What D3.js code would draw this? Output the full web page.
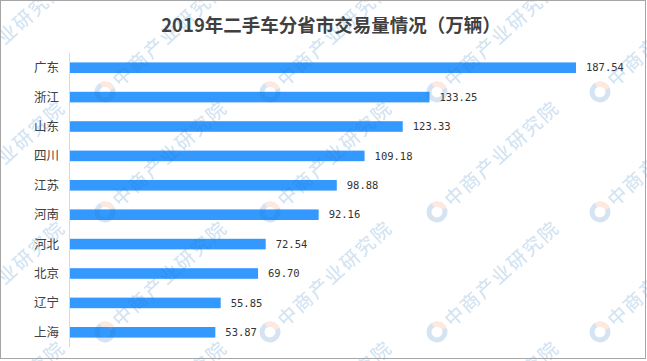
<!DOCTYPE html>
<html><head><meta charset="utf-8">
<script src="https://cdn.jsdelivr.net/npm/d3@7"></script>
<style>html,body{margin:0;padding:0;background:#fff;}svg{display:block;}</style>
</head><body>
<script>
const categories = ["广东","浙江","山东","四川","江苏","河南","河北","北京","辽宁","上海"];
const values = [187.54,133.25,123.33,109.18,98.88,92.16,72.54,69.70,55.85,53.87];
const valueLabels = ["187.54","133.25","123.33","109.18","98.88","92.16","72.54","69.70","55.85","53.87"];
const title = "2019年二手车分省市交易量情况（万辆）";
const watermark = "中商产业研究院";

const W = 647, H = 361;
const svg = d3.select("body").append("svg").attr("width", W).attr("height", H);
svg.append("rect").attr("x",0).attr("y",0).attr("width",W).attr("height",H).attr("fill","#fff");

const x = d3.scaleLinear().domain([0, 200]).range([70, 609.6]);
const y = d3.scaleBand().domain(categories).range([53, 347]);
const barH = y.bandwidth() * 0.36;

// title
svg.append("text").attr("x", 331).attr("y", 32).attr("text-anchor","middle")
  .attr("font-family","'Noto Sans CJK SC', sans-serif").attr("font-weight","bold")
  .attr("font-size","18.5px").attr("fill","#404040").text(title);

// axis line
svg.append("line").attr("x1",69.5).attr("x2",69.5).attr("y1",53).attr("y2",347)
  .attr("stroke","#d9d9d9").attr("stroke-width",1);

// category labels
svg.append("g").selectAll("text").data(categories).join("text")
  .attr("x", 59).attr("y", d => y(d) + y.bandwidth()/2).attr("dy","0.36em")
  .attr("text-anchor","end").attr("font-family","'Noto Sans CJK SC', sans-serif")
  .attr("font-size","12.5px").attr("fill","#404040").text(d => d);

// bars
svg.append("g").selectAll("rect").data(values).join("rect")
  .attr("x", x(0)).attr("y", (d,i) => y(categories[i]) + (y.bandwidth()-barH)/2)
  .attr("width", d => x(d) - x(0)).attr("height", barH).attr("fill","#3399ff");

// value labels
svg.append("g").selectAll("text").data(values).join("text")
  .attr("x", d => x(d) + 10).attr("y", (d,i) => y(categories[i]) + y.bandwidth()/2).attr("dy","0.36em")
  .attr("font-family","'DejaVu Sans Mono', monospace").attr("font-size","10.5px")
  .attr("fill","#333").text((d,i) => valueLabels[i]);

// watermarks
const wm = svg.append("g").attr("opacity", 0.2).attr("pointer-events","none");
const cols = [-57, 105, 270, 437, 600];
const rows = [92, 212, 332, 452];
cols.forEach(cx => rows.forEach(cy => {
  const g = wm.append("g").attr("transform", `translate(${cx},${cy}) rotate(-42)`);
  g.append("circle").attr("r", 8).attr("fill","none").attr("stroke","#2a78bd").attr("stroke-width",5);
  g.append("path").attr("d", d3.arc()({innerRadius:5.5, outerRadius:10.5, startAngle:0.2, endAngle:1.9})).attr("fill","#ff8a5c");
  g.append("text").attr("x", 14).attr("y", 0).attr("dy","0.36em")
    .attr("font-family","'Noto Sans CJK SC', sans-serif").attr("font-weight","500")
    .attr("font-size","19px").attr("fill","#2a78bd").attr("letter-spacing","2px").text(watermark);
}));

// border
svg.append("rect").attr("x",0.5).attr("y",0.5).attr("width",645).attr("height",358)
  .attr("fill","none").attr("stroke","#a6a6a6").attr("stroke-width",1);
</script>
</body></html>
